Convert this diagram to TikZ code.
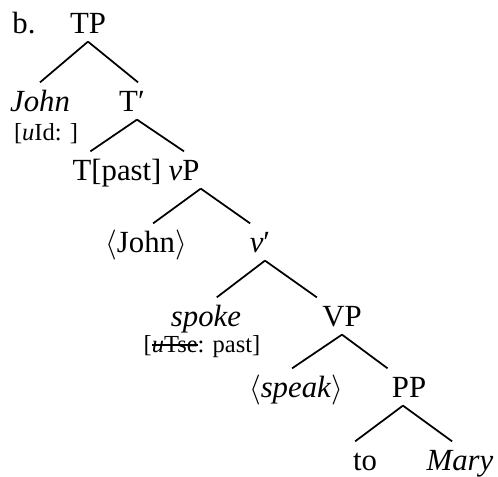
\documentclass[tikz,border=0pt]{standalone}
\usepackage{fontspec}
\setmainfont{Liberation Serif}
\usetikzlibrary{positioning}
\newsavebox\strikebox
\newcommand\strikeout[1]{\sbox\strikebox{#1}\rlap{\rule[0.3em]{\wd\strikebox}{0.5pt}}\usebox\strikebox}

\begin{document}
\begin{tikzpicture}[x=0.4pt,y=0.4pt,on grid,
  cat/.style={font=\fontsize{12.3}{14}\selectfont, text height=8.1pt, text depth=0pt, inner xsep=2pt, inner ysep=3.2pt},
  feat/.style={font=\fontsize{9.8}{11}\selectfont, inner sep=1pt}]
\useasboundingbox (-88,23) rectangle (410,-454);
\node[cat] (tp) {TP};
\node[cat] (b) [left=64 of tp] {b.};
\node[cat] (john) [below left=78 and 48 of tp] {\textit{John}};
\node[cat] (tbar) [below right=78 and 44 of tp] {T′};
\node[feat] (uid) [below right=33 and 6 of john] {[\textit{u}Id: ]};
\node[cat] (tpast) [below left=69 and 15 of tbar] {T[past]};
\node[cat] (vp) [below right=69 and 52 of tbar] {\textit{v}P};
\node[cat] (vjohn) [below left=72 and 38 of vp] {$\langle$John$\rangle$};
\node[cat] (vbar) [below right=72 and 76 of vp] {\textit{v}′};
\node[cat] (spoke) [below left=74 and 54 of vbar] {\textit{spoke}};
\node[cat] (VP) [below right=74 and 82 of vbar] {VP};
\node[feat] (utse) [below left=31 and 4 of spoke] {[\strikeout{\textit{u}Tse}: past]};
\node[cat] (speak) [below left=71 and 46 of VP] {$\langle$\textit{speak}$\rangle$};
\node[cat] (pp) [below right=71 and 67 of VP] {PP};
\node[cat] (to) [below left=73 and 44 of pp] {to};
\node[cat] (mary) [below right=73 and 51 of pp] {\textit{Mary}};

\path[-, line width=0.7pt]
(tp.south) edge (john.north)
(tp.south) edge (tbar.72)

(tbar.-75) edge (tpast.145)
(tbar.-75) edge (vp.north)

(vp.-48) edge (vjohn.69)
(vp.-48) edge (vbar.118)

(vbar.-75) edge (spoke.60)
(vbar.-75) edge (VP.north west)

(VP.south) edge (speak.102)
(VP.south) edge (pp.139)

(pp.-108) edge (to.118)
(pp.-108) edge (mary.113)
; %end path
\end{tikzpicture}
\end{document}
